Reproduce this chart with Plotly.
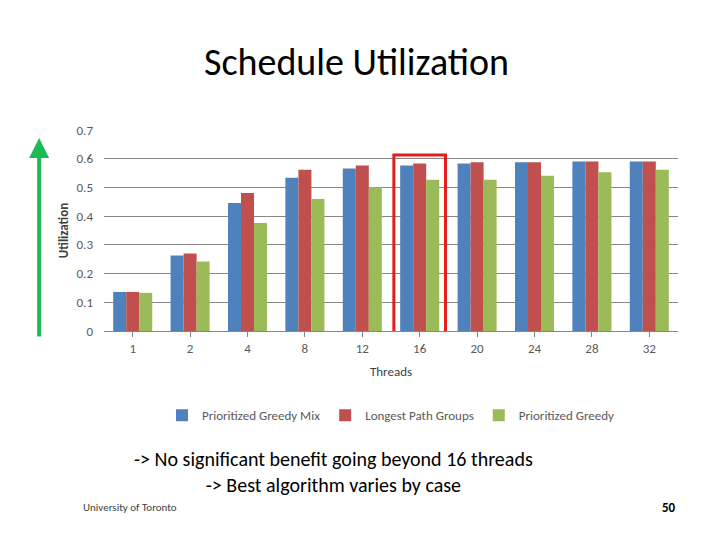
import plotly.graph_objects as go

threads = ["1", "2", "4", "8", "12", "16", "20", "24", "28", "32"]
greedy_mix = [0.136, 0.263, 0.446, 0.534, 0.566, 0.576, 0.583, 0.588, 0.590, 0.590]
longest_path = [0.136, 0.270, 0.481, 0.562, 0.576, 0.583, 0.588, 0.588, 0.590, 0.590]
greedy = [0.133, 0.242, 0.376, 0.460, 0.501, 0.527, 0.527, 0.541, 0.553, 0.562]
y_ticks = [0, 0.1, 0.2, 0.3, 0.4, 0.5, 0.6, 0.7]
y_tick_labels = ["0", "0.1", "0.2", "0.3", "0.4", "0.5", "0.6", "0.7"]

fig = go.Figure()
for name, vals, col in [("Prioritized Greedy Mix", greedy_mix, "#4F81BD"),
                        ("Longest Path Groups", longest_path, "#C0504D"),
                        ("Prioritized Greedy", greedy, "#9BBB59")]:
    fig.add_bar(x=threads, y=vals, name=name, marker_color=col, marker_line_width=0)

f = "Calibri, Liberation Sans, sans-serif"
fig.update_layout(
    width=720, height=540, plot_bgcolor="white", paper_bgcolor="white",
    margin=dict(l=96, r=50, t=122, b=217),
    bargap=0.32, bargroupgap=0,
    font=dict(family=f, color="#595959", size=13),
    legend=dict(orientation="h", x=0.5, xanchor="center", y=-0.42, yanchor="middle",
                font=dict(size=13, color="#595959")),
    xaxis=dict(type="category", showline=True, linecolor="#868686", ticks="outside",
               tickcolor="#868686", title=dict(text="Threads", standoff=12,
               font=dict(size=13, color="#404040"))),
    yaxis=dict(range=[0, 0.7], tickvals=y_ticks, ticktext=y_tick_labels, gridcolor="#868686",
               showline=False, zeroline=False, ticklabelstandoff=10,
               title=dict(text="<b>Utilization</b>", standoff=4, font=dict(size=13, color="#404040"))),
    showlegend=True,
)
fig.add_shape(type="rect", xref="x", yref="y", x0=4.55, x1=5.45, y0=-0.108, y1=0.613,
              line=dict(color="#E31C1C", width=3))
fig.add_annotation(xref="paper", yref="paper", x=-0.113, y=0.96, ax=0, ay=200,
                   showarrow=True, arrowhead=2, arrowsize=1.0,
                   arrowwidth=4, arrowcolor="#1DB954", text="")
fig.add_annotation(xref="paper", yref="paper", x=0.44, y=1.338, yanchor="middle", showarrow=False,
                   text="Schedule Utilization", font=dict(size=38, color="black", family=f))
fig.add_annotation(xref="paper", yref="paper", x=0.4, y=-0.70, yanchor="middle", showarrow=False,
                   text="-> No significant benefit going beyond 16 threads<br>-> Best algorithm varies by case",
                   font=dict(size=20, color="black", family=f))
fig.add_annotation(xref="paper", yref="paper", x=-0.04, y=-0.88, yanchor="middle", showarrow=False,
                   text="University of Toronto", font=dict(size=11, color="#404040", family=f))
fig.add_annotation(xref="paper", yref="paper", x=1.0, y=-0.88, yanchor="middle", showarrow=False,
                   text="<b>50</b>", font=dict(size=13, color="black", family=f))
fig.write_html("out.html")
